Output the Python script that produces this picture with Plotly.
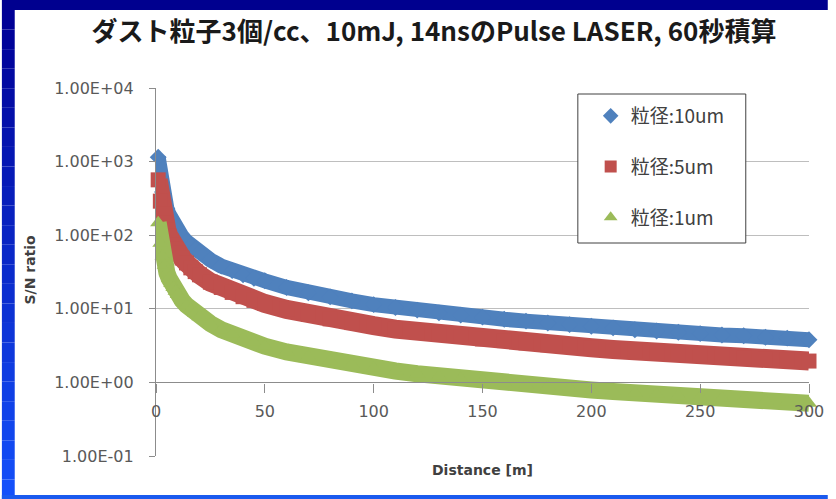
import plotly.graph_objects as go

# ---------------- data ----------------
distance = [1, 2, 3, 4, 5, 6, 7, 8, 9, 10, 12, 14, 16, 18, 20, 25, 30, 35, 40, 45,
            50, 60, 70, 80, 90, 100, 110, 120, 130, 140, 150, 160, 170, 180, 190,
            200, 210, 220, 230, 240, 250, 260, 270, 280, 290, 300]

sn_10um = [1150, 575, 385, 290, 230, 192, 165, 144, 128, 115, 96, 82, 72, 64, 58,
           46, 38, 33, 29, 26, 24, 19.5, 16.5, 14.5, 12.8, 11.4, 10.4, 9.6, 8.8,
           8.2, 7.7, 7.2, 6.8, 6.4, 6.1, 5.8, 5.5, 5.2, 5.0, 4.8, 4.6, 4.4, 4.3,
           4.1, 4.0, 3.8]

sn_5um = [565, 290, 195, 146, 117, 97, 83, 73, 65, 58, 49, 42, 36, 32, 29, 23,
          19.5, 16.7, 14.6, 13.0, 11.8, 9.8, 8.4, 7.3, 6.5, 5.9, 5.3, 4.9, 4.5,
          4.2, 3.9, 3.7, 3.45, 3.25, 3.1, 2.95, 2.8, 2.65, 2.55, 2.45, 2.35, 2.25,
          2.15, 2.08, 2.0, 1.95]

sn_1um = [148, 78, 52, 39, 31, 26, 22, 19.5, 17.3, 15.6, 13.0, 11.2, 9.8, 8.7,
          7.8, 6.3, 5.2, 4.5, 3.9, 3.5, 3.1, 2.6, 2.25, 1.97, 1.75, 1.57, 1.43,
          1.31, 1.21, 1.12, 1.05, 0.98, 0.92, 0.87, 0.83, 0.79, 0.75, 0.72, 0.69,
          0.66, 0.63, 0.61, 0.59, 0.56, 0.54, 0.52]

series_names = ["粒径:10um", "粒径:5um", "粒径:1um"]
y_tick_vals = [0.1, 1, 10, 100, 1000, 10000]
y_tick_text = ["1.00E-01", "1.00E+00", "1.00E+01", "1.00E+02", "1.00E+03", "1.00E+04"]
x_tick_vals = [0, 50, 100, 150, 200, 250, 300]
x_tick_text = ["0", "50", "100", "150", "200", "250", "300"]

title_text = "ダスト粒子3個/cc、10mJ, 14nsのPulse LASER, 60秒積算"
x_title = "Distance [m]"
y_title = "S/N ratio"

# ---------------- layout geometry (figure pixels) ----------------
W, H = 836, 499
L, R, T, B = 156, 817, 88, 456          # plot area in pixels


def px_x(x):
    return (x - L) / (R - L)


def px_y(y):
    return (B - y) / (B - T)


colors = ["#4F81BD", "#C0504D", "#9BBB59"]
symbols = ["diamond", "square", "triangle-up"]
msizes = [13, 15, 14]
lwidths = [15, 19, 17]
series = [sn_10um, sn_5um, sn_1um]

fig = go.Figure()
for name, vals, c, s, ms, lw in zip(series_names, series, colors, symbols, msizes, lwidths):
    fig.add_trace(go.Scatter(x=distance, y=vals, mode="lines",
                             line=dict(color=c, width=lw), showlegend=False,
                             hoverinfo="skip", legendgroup=name))
    fig.add_trace(go.Scatter(x=distance, y=vals, mode="markers", name=name,
                             marker=dict(symbol=s, size=ms, color=c, line=dict(width=0)),
                             legendgroup=name, cliponaxis=False))

shapes = []
# blue slide frame
shapes.append(dict(type="rect", xref="paper", yref="paper",
                   x0=px_x(0), x1=px_x(W), y0=px_y(10), y1=px_y(0),
                   fillcolor="#00008F", line=dict(width=0), layer="below"))
n = 25
for i in range(n):
    y0 = 10 + (H - 10) * i / n
    y1 = 10 + (H - 10) * (i + 1) / n
    t = i / (n - 1)
    r = int(0 + 20 * t)
    g = int(0 + 80 * t)
    b = int(150 + 100 * t)
    shapes.append(dict(type="rect", xref="paper", yref="paper",
                       x0=px_x(0), x1=px_x(13), y0=px_y(y1), y1=px_y(y0),
                       fillcolor=f"rgb({r},{g},{b})", line=dict(width=0), layer="below"))
shapes.append(dict(type="rect", xref="paper", yref="paper",
                   x0=px_x(0), x1=px_x(W), y0=px_y(H), y1=px_y(495),
                   fillcolor="#1A5AEE", line=dict(width=0), layer="below"))
# legend box
shapes.append(dict(type="rect", xref="paper", yref="paper",
                   x0=px_x(583), x1=px_x(753), y0=px_y(243), y1=px_y(94),
                   fillcolor="white", line=dict(color="#404040", width=1), layer="above"))

axis_font = dict(family="DejaVu Sans", size=16, color="#595959")

fig.update_layout(
    width=W, height=H,
    margin=dict(l=L, r=W - R, t=T, b=H - B, pad=0),
    paper_bgcolor="white", plot_bgcolor="white",
    title=dict(text=title_text, x=434 / W, xanchor="center", y=1 - 32 / H,
               yanchor="middle", yref="container",
               font=dict(family="Noto Sans CJK JP", size=26, color="#1a1a1a", weight="bold")),
    xaxis=dict(range=[0, 300], tickvals=x_tick_vals, ticktext=x_tick_text,
               anchor="free", position=0.2, showgrid=False, zeroline=False,
               showline=True, linecolor="#8C8C8C", linewidth=1.2,
               ticks="outside", ticklen=9, tickcolor="#8C8C8C",
               tickfont=axis_font, ticklabelstandoff=5),
    yaxis=dict(type="log", range=[-1, 4], tickvals=y_tick_vals, ticktext=y_tick_text,
               showgrid=True, gridcolor="#BEBEBE", gridwidth=1.3,
               showline=True, linecolor="#8C8C8C", linewidth=1.2,
               ticks="outside", ticklen=6, tickcolor="#8C8C8C",
               tickfont=axis_font, ticklabelstandoff=12, zeroline=False),
    legend=dict(x=px_x(596), y=px_y(97), xanchor="left", yanchor="top",
                bgcolor="rgba(0,0,0,0)", borderwidth=0, tracegroupgap=23,
                font=dict(family="Noto Sans CJK JP", size=19, color="#404040"),
                itemsizing="constant"),
    shapes=shapes,
    annotations=[
        dict(text=x_title, xref="paper", yref="paper", x=px_x(487), y=px_y(470),
             showarrow=False, xanchor="center", yanchor="middle",
             font=dict(family="DejaVu Sans", size=14, color="#404040", weight="bold")),
        dict(text=y_title, xref="paper", yref="paper", x=px_x(28), y=px_y(270),
             showarrow=False, xanchor="center", yanchor="middle", textangle=-90,
             font=dict(family="DejaVu Sans", size=14, color="#404040", weight="bold")),
    ],
)

fig.write_html("out.html", config={"displayModeBar": False},
               post_script="document.body.style.margin='0';document.body.style.overflow='hidden';")
